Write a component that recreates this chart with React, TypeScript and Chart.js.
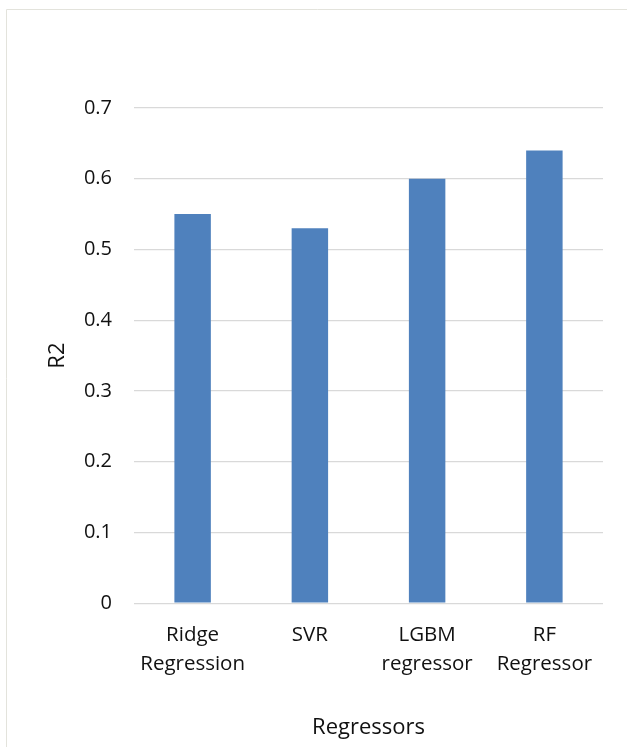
import React, { useEffect, useRef } from "react";
import { Chart, registerables } from "chart.js";

Chart.register(...registerables);

const categories: (string | string[])[] = [
  ["Ridge", "Regression"],
  "SVR",
  ["LGBM", "regressor"],
  ["RF", "Regressor"],
];
const r2Values: number[] = [0.55, 0.53, 0.6, 0.64];
const yTicks: number[] = [0, 0.1, 0.2, 0.3, 0.4, 0.5, 0.6, 0.7];

const FONT = "'Open Sans', 'Noto Sans', sans-serif";

const framePlugin = {
  id: "frame",
  beforeDraw(chart: any) {
    const ctx = chart.ctx;
    ctx.save();
    ctx.strokeStyle = "#e3e3dc";
    ctx.lineWidth = 1;
    ctx.beginPath();
    ctx.moveTo(6.5, chart.height + 1);
    ctx.lineTo(6.5, 9.5);
    ctx.lineTo(chart.width + 1, 9.5);
    ctx.stroke();
    ctx.restore();
  },
};

export default function App() {
  const ref = useRef<HTMLCanvasElement | null>(null);
  useEffect(() => {
    document.body.style.margin = "0";
    if (!ref.current) return;
    const chart = new Chart(ref.current, {
      type: "bar",
      data: {
        labels: categories,
        datasets: [
          {
            label: "R2",
            data: r2Values,
            backgroundColor: "#4f81bd",
            barPercentage: 0.311,
            categoryPercentage: 1,
          },
        ],
      },
      options: {
        animation: false,
        responsive: false,
        maintainAspectRatio: false,
        layout: { padding: { left: 0, right: 24, top: 108, bottom: 6 } },
        plugins: {
          legend: { display: false },
          tooltip: { enabled: false },
        },
        scales: {
          x: {
            grid: { display: false },
            border: { display: false },
            ticks: {
              color: "#111",
              font: { family: FONT, size: 20.5, lineHeight: 1.4 },
              maxRotation: 0,
              minRotation: 0,
              padding: 10,
            },
            title: {
              display: true,
              text: "Regressors",
              color: "#111",
              font: { family: FONT, size: 22 },
              padding: { top: 26, bottom: 0 },
            },
          },
          y: {
            min: 0,
            max: 0.7,
            afterFit(scale: any) {
              scale.width = 134;
            },
            afterBuildTicks(scale: any) {
              scale.ticks = yTicks.map((v) => ({ value: v }));
            },
            grid: { color: "#d9d9d9", lineWidth: 1.3, drawTicks: false },
            border: { display: false },
            ticks: {
              color: "#111",
              font: { family: FONT, size: 20 },
              padding: 22,
              callback: (v: any) => String(Math.round(Number(v) * 10) / 10),
            },
            title: {
              display: true,
              text: "R2",
              color: "#111",
              font: { family: FONT, size: 22 },
              padding: { top: 45, bottom: 0 },
            },
          },
        },
      },
      plugins: [framePlugin],
    });
    return () => chart.destroy();
  }, []);
  return (
    <div style={{ position: "absolute", left: 0, top: 0, width: 627, height: 747 }}>
      <canvas ref={ref} width={627} height={747} style={{ width: 627, height: 747, display: "block" }} />
    </div>
  );
}
